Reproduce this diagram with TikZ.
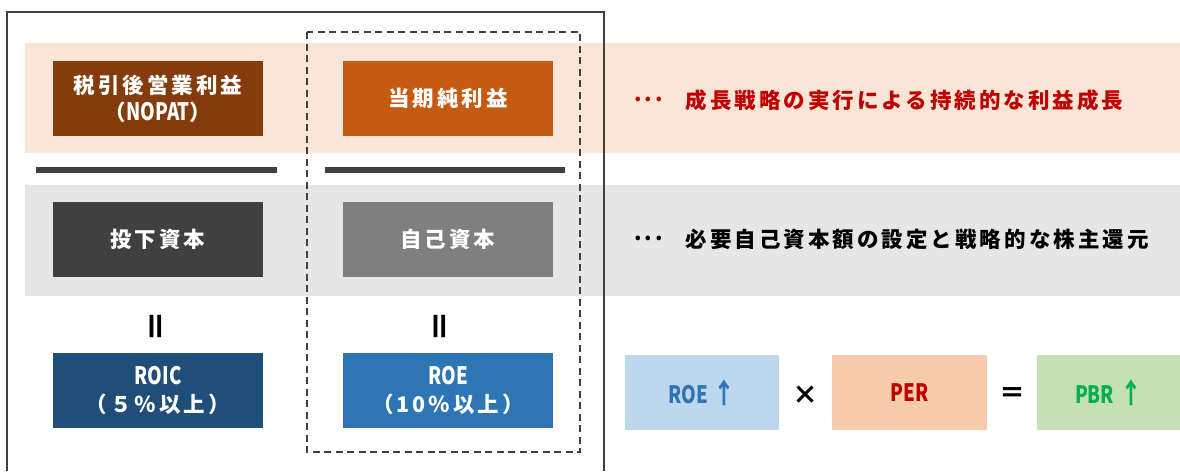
\documentclass[tikz,border=0pt]{standalone}
\usepackage{fontspec}
\setmainfont{Noto Sans CJK JP}
\newfontfamily\jp{Noto Sans CJK JP}[LetterSpace=14]
\newfontfamily\cnd{Noto Sans CJK JP}[FakeStretch=0.78]
\definecolor{peach}{HTML}{FBE5D6}
\definecolor{bandgray}{HTML}{E6E6E6}
\definecolor{brownA}{HTML}{843C0C}
\definecolor{orangeA}{HTML}{C55A11}
\definecolor{darkA}{HTML}{404040}
\definecolor{grayA}{HTML}{7F7F7F}
\definecolor{navyA}{HTML}{1F4E79}
\definecolor{blueA}{HTML}{2E75B6}
\definecolor{redA}{HTML}{C00000}
\definecolor{lblue}{HTML}{BDD7EE}
\definecolor{lorange}{HTML}{F8CBAD}
\definecolor{lgreen}{HTML}{C5E0B4}
\definecolor{greenA}{HTML}{00B050}
\newcommand\latn[1]{{\cnd\fontsize{24}{27}\selectfont #1}}
\newcommand\mdots{\raisebox{0.32em}{...}}
\tikzset{
  box/.style={minimum width=210pt, minimum height=75pt, inner sep=0pt, align=center, text=white,
    font=\jp\bfseries\fontsize{21.5}{27}\selectfont},
  rbox/.style={minimum height=75pt, inner sep=0pt, align=center,
    font=\cnd\bfseries\fontsize{24}{28}\selectfont},
  bar/.style={fill=darkA},
  eqv/.style={font=\bfseries\fontsize{32}{32}\selectfont, rotate=90, inner sep=0pt},
  note/.style={anchor=west, inner sep=0pt, font=\jp\bfseries\fontsize{21.5}{24}\selectfont},
  op/.style={inner sep=0pt, font=\bfseries\fontsize{26}{26}\selectfont},
}
\begin{document}
\begin{tikzpicture}[x=1pt,y=-1pt]
\useasboundingbox (0,0) rectangle (1180,471);
% bands
\fill[peach] (25,43) rectangle (1180,153);
\fill[bandgray] (25,185) rectangle (1180,296);
% bars
\fill[bar] (36,167) rectangle (277,173);
\fill[bar] (325,167) rectangle (565,173);
% left column
\node[box, fill=brownA] (nopat) at (158,98.5) {税引後営業利益\\（\latn{NOPAT}）};
\node[box, fill=darkA] (ic) at (158,239.5) {投下資本};
\node[box, fill=navyA] (roic) at (158,390.5) {\latn{ROIC}\\[1pt]（５％以上）};
\node[eqv] (eq1) at (159,326) {＝};
% right column
\node[box, fill=orangeA] (ni) at (448,98.5) {当期純利益};
\node[box, fill=grayA] (eqc) at (448,239.5) {自己資本};
\node[box, fill=blueA] (roe) at (448,390.5) {\latn{ROE}\\[1pt]（10％以上）};
\node[eqv] (eq2) at (443,326) {＝};
% notes
\node[note, text=redA] (n1) at (634,100) {\mdots\hspace{23pt}成長戦略の実行による持続的な利益成長};
\node[note, text=black] (n2) at (634,239) {\mdots\hspace{23pt}必要自己資本額の設定と戦略的な株主還元};
% formula
\node[rbox, fill=lblue, text=blueA, minimum width=154pt] (roeu) at (702,392.5) {ROE\hspace{6pt}{\fontsize{28}{28}\selectfont ↑}};
\node[op] (times) at (805,395) {×};
\node[rbox, fill=lorange, text=redA, minimum width=155pt] (per) at (909.5,392.5) {PER};
\node[op] (eqs) at (1012,395) {＝};
\node[rbox, fill=lgreen, text=greenA, minimum width=143pt] (pbr) at (1108.5,392.5) {PBR\hspace{6pt}{\fontsize{28}{28}\selectfont ↑}};
% frames
\draw[darkA, line width=2.2pt] (7,471) -- (7,12) -- (604,12) -- (604,471);
\draw[darkA, line width=1.5pt, dash pattern=on 7pt off 4.5pt] (307,32) rectangle (580,452);
\end{tikzpicture}
\end{document}
